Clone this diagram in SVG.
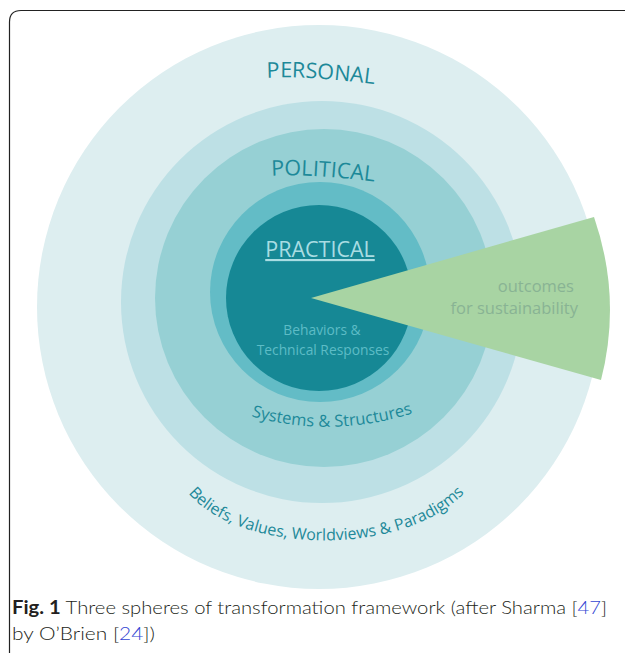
<svg xmlns="http://www.w3.org/2000/svg" width="625" height="653" viewBox="0 0 625 653">
  <style>
    .lbl { font-family: "Open Sans", "Noto Sans", sans-serif; fill: #1d8999; }
    .big { font-size: 21.5px; }
    .arc { font-size: 16.5px; }
    .inner { font-family: "Open Sans", "Noto Sans", sans-serif; font-size: 13.8px; fill: #5dbcc6; text-anchor: middle; }
    .out { font-family: "Open Sans", "Noto Sans", sans-serif; font-size: 16.5px; fill: #88b394; text-anchor: end; }
    .cap { font-family: Lato, "Open Sans", sans-serif; font-weight: 300; font-size: 18px; fill: #231f20; }
    .ref { fill: #3346d3; }
  </style>
  <defs>
    <path id="p-personal" d="M 262,78 Q 305,75 380,85"/>
    <path id="p-political" d="M 268,176 Q 305,173 378,182"/>
    <path id="p-systems" d="M 244,414 Q 330,441 420,411"/>
    <path id="p-beliefs" d="M 183,486 C 228,556 412,561 470,486"/>
  </defs>

  <rect width="625" height="653" fill="#ffffff"/>

  <!-- frame with rounded upper-left corner -->
  <path d="M 9.5,653 L 9.5,22 Q 9.5,10.5 21,10.5 L 625,10.5" fill="none" stroke="#222" stroke-width="1.2"/>

  <!-- outer sphere: personal -->
  <g id="personal">
    <circle cx="319" cy="307" r="282" fill="#ddeef0"/>
    <rect x="160" y="553" width="18" height="14" fill="#ffffff"/>
    <text class="lbl big"><textPath href="#p-personal" startOffset="50%" text-anchor="middle">PERSONAL</textPath></text>
  </g>

  <!-- beliefs band -->
  <g id="beliefs">
    <circle cx="322" cy="302" r="201" fill="#bde0e5"/>
  </g>

  <!-- political sphere -->
  <g id="political">
    <circle cx="324" cy="298" r="169" fill="#96d0d4"/>
    <text class="lbl big"><textPath href="#p-political" startOffset="50%" text-anchor="middle">POLITICAL</textPath></text>
  </g>

  <!-- systems band -->
  <g id="systems">
    <circle cx="320" cy="292" r="110" fill="#63bcc6"/>
  </g>

  <!-- practical sphere -->
  <g id="practical">
    <circle cx="319" cy="298" r="93" fill="#168895"/>
    <text x="320" y="257" text-anchor="middle" font-family="Open Sans, Noto Sans, sans-serif" font-size="21.5" fill="#a9dde3" text-decoration="underline">PRACTICAL</text>
    <text class="inner" x="322" y="335">Behaviors &amp;</text>
    <text class="inner" x="323" y="355">Technical Responses</text>
  </g>

  <!-- curved band labels -->
  <g id="band-labels">
    <text class="lbl arc"><textPath href="#p-systems" startOffset="50%" text-anchor="middle">Systems &amp; Structures</textPath></text>
    <text class="lbl" font-size="16"><textPath href="#p-beliefs" startOffset="50%" text-anchor="middle">Beliefs, Values, Worldviews &amp; Paradigms</textPath></text>
  </g>

  <!-- outcomes wedge -->
  <g id="outcomes">
    <path d="M 311,298 L 594,217 Q 622,298 601,380 Z" fill="#a8d4a3"/>
    <text class="out" x="574" y="292">outcomes</text>
    <text class="out" x="578" y="314">for sustainability</text>
  </g>

  <!-- caption -->
  <g id="caption">
    <text class="cap" x="12" y="614" textLength="595" lengthAdjust="spacingAndGlyphs"><tspan font-weight="bold">Fig. 1</tspan>  Three spheres of transformation framework (after Sharma [<tspan class="ref">47</tspan>]</text>
    <text class="cap" x="12" y="640" textLength="143" lengthAdjust="spacingAndGlyphs">by O’Brien [<tspan class="ref">24</tspan>])</text>
  </g>
</svg>
